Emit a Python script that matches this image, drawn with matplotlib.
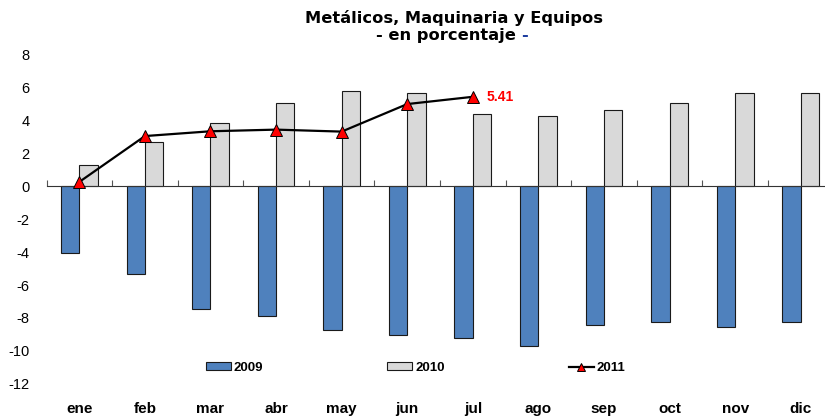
import numpy as np
import matplotlib
matplotlib.use("Agg")
import matplotlib.pyplot as plt
from matplotlib.transforms import blended_transform_factory

plt.rcParams['font.family'] = ['Liberation Sans', 'DejaVu Sans']
plt.rcParams['axes.unicode_minus'] = False

# Data
months = ["ene", "feb", "mar", "abr", "may", "jun", "jul",
          "ago", "sep", "oct", "nov", "dic"]
v2009 = [-4.08, -5.35, -7.43, -7.85, -8.70, -9.05, -9.19,
         -9.67, -8.44, -8.26, -8.56, -8.22]
v2010 = [1.27, 2.67, 3.84, 5.05, 5.74, 5.62, 4.36,
         4.22, 4.63, 5.03, 5.66, 5.66]
v2011 = [0.25, 3.03, 3.32, 3.42, 3.30, 4.97, 5.41]
yticks = [8, 6, 4, 2, 0, -2, -4, -6, -8, -10, -12]

blue = "#4F81BD"
gray = "#D9D9D9"

fig = plt.figure(figsize=(8.25, 4.16), dpi=100)
ax = fig.add_axes([0.0564, 0.077, 0.954, 0.793])

x = np.arange(len(months))
w = 0.28
b09 = ax.bar(x - w / 2, v2009, w, color=blue, edgecolor="#1a1a1a",
             linewidth=0.8, label="2009", zorder=2)
b10 = ax.bar(x + w / 2, v2010, w, color=gray, edgecolor="#1a1a1a",
             linewidth=0.8, label="2010", zorder=2)
x11 = np.arange(len(v2011))
l11, = ax.plot(x11, v2011, color="black", linewidth=1.6, marker="^",
               markersize=8.5, markerfacecolor="red", markeredgecolor="black",
               markeredgewidth=0.7, label="2011", zorder=4)

# last value label
ax.annotate(f"{v2011[-1]:.2f}", (x11[-1], v2011[-1]), xytext=(10, 0),
            textcoords="offset points", color="red", fontsize=10,
            fontweight="bold", va="center", ha="left")

ax.set_xlim(-0.5, len(months) - 0.5)
ax.set_ylim(-12, 8)
ax.set_yticks(yticks)
ax.tick_params(axis="y", length=0, pad=12, labelsize=10.5)

# zero line with category ticks
for s in ["left", "right", "top"]:
    ax.spines[s].set_visible(False)
ax.spines["bottom"].set_position(("data", 0))
ax.spines["bottom"].set_color("#333333")
ax.spines["bottom"].set_zorder(3)
ax.set_xticks(np.arange(-0.5, len(months), 1.0))
ax.tick_params(axis="x", direction="in", length=4, color="#555555",
               labelbottom=False)

# month labels along the bottom
trans = blended_transform_factory(ax.transData, ax.transAxes)
for i, m in enumerate(months):
    ax.text(i, -0.088, m, transform=trans, ha="center", va="baseline",
            fontsize=11, fontweight="bold")

ax.legend([b09, b10, l11], ["2009", "2010", "2011"], loc="center",
          bbox_to_anchor=(0.469, 0.048), ncol=3, frameon=False,
          prop={"weight": "bold", "size": 9.5}, markerscale=0.75,
          handlelength=1.9, handleheight=0.55, handletextpad=0.2,
          columnspacing=9.4)

# title
tfont = dict(family="DejaVu Sans", fontsize=11.7, fontweight="bold")
fig.text(0.550, 0.957, "Metálicos, Maquinaria y Equipos", ha="center",
         va="center", **tfont)
t2 = fig.text(0.541, 0.914, "- en porcentaje", ha="center", va="center",
              **tfont)
fig.canvas.draw()
bb = t2.get_window_extent()
fig.text((bb.x1 + 5) / fig.bbox.width, 0.914, "-", ha="left", va="center",
         color="#1F3FA0", **tfont)

fig.savefig("out.png", dpi=100)
